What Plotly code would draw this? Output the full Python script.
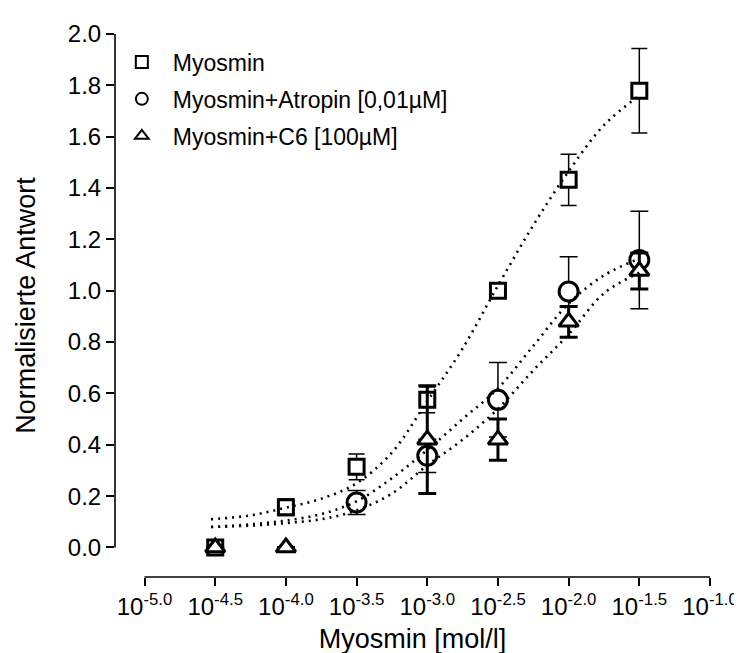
import plotly.graph_objects as go

# ---- data (log10 of concentration) ----
x_sq = [-4.5, -4.0, -3.5, -3.0, -2.5, -2.0, -1.5]
y_sq = [0.0, 0.157, 0.314, 0.575, 1.0, 1.432, 1.779]
e_sq = [0.0, 0.032, 0.05, 0.05, 0.0, 0.10, 0.165]

x_ci = [-3.5, -3.0, -2.5, -2.0, -1.5]
y_ci = [0.175, 0.357, 0.575, 0.997, 1.12]
e_ci = [0.047, 0.065, 0.145, 0.135, 0.19]

x_tr = [-4.5, -4.0, -3.0, -2.5, -2.0, -1.5]
y_tr = [0.0, 0.0, 0.42, 0.42, 0.879, 1.077]
e_tr = [0.0, 0.0, 0.21, 0.08, 0.06, 0.07]

# fitted curves
fit_x = [-4.53, -4.25, -4.0, -3.75, -3.5, -3.25, -3.0, -2.75, -2.5, -2.25, -2.0, -1.75, -1.5]
fit_sq = [0.11, 0.125, 0.155, 0.19, 0.25, 0.37, 0.57, 0.775, 1.02, 1.255, 1.465, 1.645, 1.76]
fit_ci = [0.08, 0.09, 0.105, 0.13, 0.18, 0.27, 0.38, 0.50, 0.62, 0.785, 0.95, 1.06, 1.125]
fit_tr = [0.08, 0.085, 0.095, 0.11, 0.145, 0.21, 0.32, 0.42, 0.54, 0.69, 0.83, 0.99, 1.07]

tick_exp = [-5.0, -4.5, -4.0, -3.5, -3.0, -2.5, -2.0, -1.5, -1.0]
y_ticks = [0.0, 0.2, 0.4, 0.6, 0.8, 1.0, 1.2, 1.4, 1.6, 1.8, 2.0]

names = ["Myosmin", "Myosmin+Atropin [0,01µM]", "Myosmin+C6 [100µM]"]

FONT = "Liberation Sans, Arial, sans-serif"
pw = lambda arr: [10 ** v for v in arr]

fig = go.Figure()

series = [
    (x_sq, y_sq, e_sq, "square", 15, 1.5, 8),
    (x_ci, y_ci, e_ci, "circle", 19, 1.5, 9),
    (x_tr, y_tr, e_tr, "triangle-up", 17, 3.0, 9),
]
for i, ((xs, ys, es, sym, sz, eth, ew), nm) in enumerate(zip(series, names)):
    fig.add_trace(go.Scatter(
        x=pw(xs), y=ys, mode="markers", name=nm, cliponaxis=False, legendgroup="g%d" % i,
        marker=dict(symbol=sym, size=sz, color="white", line=dict(color="black", width=3)),
        error_y=dict(type="data", array=es, visible=True, color="black", thickness=eth, width=ew),
    ))

dash = "2px,5px"
for fy in (fit_sq, fit_ci, fit_tr):
    fig.add_trace(go.Scatter(x=pw(fit_x), y=fy, mode="lines", line_shape="spline",
                             line=dict(color="black", width=2.6, dash=dash),
                             showlegend=False, hoverinfo="skip", cliponaxis=False))

# axis lines (detached, Prism style)
fig.add_shape(type="line", xref="x", yref="paper", x0=10 ** tick_exp[0], x1=10 ** tick_exp[-1],
              y0=0, y1=0, line=dict(color="black", width=1.6))
fig.add_shape(type="line", xref="paper", yref="y", x0=0, x1=0, y0=y_ticks[0], y1=y_ticks[-1],
              line=dict(color="black", width=1.6))

fig.update_layout(
    width=742, height=653,
    margin=dict(l=107, r=31, t=24, b=77),
    paper_bgcolor="white", plot_bgcolor="white",
    font=dict(family=FONT, color="black"),
    xaxis=dict(type="log", range=[-5.209, -1.0], showline=False, showgrid=False, zeroline=False,
               tickmode="array", tickvals=pw(tick_exp),
               ticktext=["10<sup>%.1f</sup>" % v for v in tick_exp],
               ticks="outside", ticklen=8, tickwidth=1.6, tickcolor="black",
               tickfont=dict(size=24, family=FONT),
               title=dict(text="Myosmin [mol/l]", font=dict(size=27, family=FONT), standoff=10)),
    yaxis=dict(range=[-0.115, 2.0], showline=False, showgrid=False, zeroline=False,
               tickmode="array", tickvals=y_ticks, ticktext=["%.1f" % v for v in y_ticks],
               ticks="outside", ticklen=8, tickwidth=1.6, tickcolor="black",
               tickfont=dict(size=24, family=FONT),
               title=dict(text="Normalisierte Antwort", font=dict(size=27, family=FONT), standoff=24)),
    legend=dict(x=-0.007, y=0.988, xanchor="left", yanchor="top", font=dict(size=23, family=FONT),
                bgcolor="rgba(0,0,0,0)", itemsizing="constant", itemwidth=52,
                tracegroupgap=4),
)

fig.write_html("out.html")
